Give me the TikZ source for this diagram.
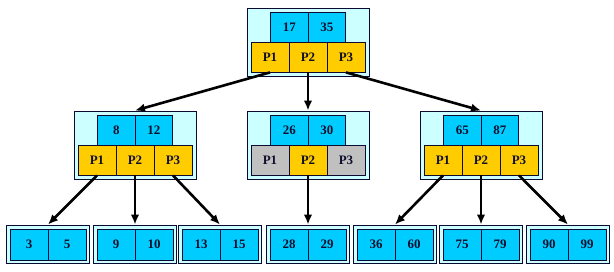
\documentclass[tikz,border=0pt]{standalone}
\usepackage{fontspec}
\setmainfont{Liberation Serif}
\usetikzlibrary{arrows.meta}
\definecolor{keycyan}{RGB}{0,204,255}
\definecolor{boxcyan}{RGB}{204,255,255}
\definecolor{ptryellow}{RGB}{255,204,0}
\definecolor{ptrgray}{RGB}{192,192,192}
\definecolor{edgeblue}{RGB}{10,10,50}
\definecolor{txtblue}{RGB}{15,15,45}
\tikzset{
  outerbox/.style={draw=edgeblue, fill=boxcyan, line width=0.9bp, inner sep=0pt},
  cellbase/.style={draw=edgeblue, line width=0.8bp, inner sep=0pt, text=txtblue,
    font=\fontsize{13}{13}\selectfont\bfseries},
  keycell/.style={cellbase, fill=keycyan, minimum width=37.5bp, minimum height=30bp},
  ptrcell/.style={cellbase, minimum width=38bp, minimum height=30bp},
  leafcell/.style={cellbase, fill=keycyan, minimum width=38bp, minimum height=31bp},
  arr/.style={draw=black, line width=2.6bp, -{Latex[length=10bp,width=8.5bp]}}
}
\newcommand\BTinner[8]{%
  \node[outerbox, minimum width=122bp, minimum height=68bp] (#1) at (#2, #3+34) {};
  \node[keycell] (#1-k1) at (#2-18.75, #3+19) {#4};
  \node[keycell] (#1-k2) at (#2+18.75, #3+19) {#5};
  \node[ptrcell, fill=#6] (#1-p1) at (#2-38, #3+49) {P1};
  \node[ptrcell, fill=#7] (#1-p2) at (#2, #3+49) {P2};
  \node[ptrcell, fill=#8] (#1-p3) at (#2+38, #3+49) {P3};
}
\newcommand\BTleaf[4]{%
  \node[outerbox, minimum width=83bp, minimum height=38bp] (#1) at (#2, 244) {};
  \node[leafcell] (#1-k1) at (#2-19, 244.5) {#3};
  \node[leafcell] (#1-k2) at (#2+19, 244.5) {#4};
}
\begin{document}
\begin{tikzpicture}[x=1bp, y=-1bp]
\useasboundingbox[fill=white] (0,0) rectangle (614,271);
\BTinner{root}{308}{8}{17}{35}{ptryellow}{ptryellow}{ptryellow}
\BTinner{nl}{135}{111}{8}{12}{ptryellow}{ptryellow}{ptryellow}
\BTinner{nm}{308}{111}{26}{30}{ptrgray}{ptryellow}{ptrgray}
\BTinner{nr}{481}{111}{65}{87}{ptryellow}{ptryellow}{ptryellow}
\BTleaf{la}{48}{3}{5}
\BTleaf{lb}{135}{9}{10}
\BTleaf{lc}{220}{13}{15}
\BTleaf{ld}{308}{28}{29}
\BTleaf{le}{395}{36}{60}
\BTleaf{lf}{481}{75}{79}
\BTleaf{lg}{568}{90}{99}
\draw[arr] (root-p1.south) -- (nl.north);
\draw[arr] (root-p2.south) -- (nm.north);
\draw[arr] (root-p3.south) -- (nr.north);
\draw[arr] (nl-p1.south) -- (la.north);
\draw[arr] (nl-p2.south) -- (lb.north);
\draw[arr] (nl-p3.south) -- (lc.north);
\draw[arr] (nm-p2.south) -- (ld.north);
\draw[arr] (nr-p1.south) -- (le.north);
\draw[arr] (nr-p2.south) -- (lf.north);
\draw[arr] (nr-p3.south) -- (lg.north);
\end{tikzpicture}
\end{document}
